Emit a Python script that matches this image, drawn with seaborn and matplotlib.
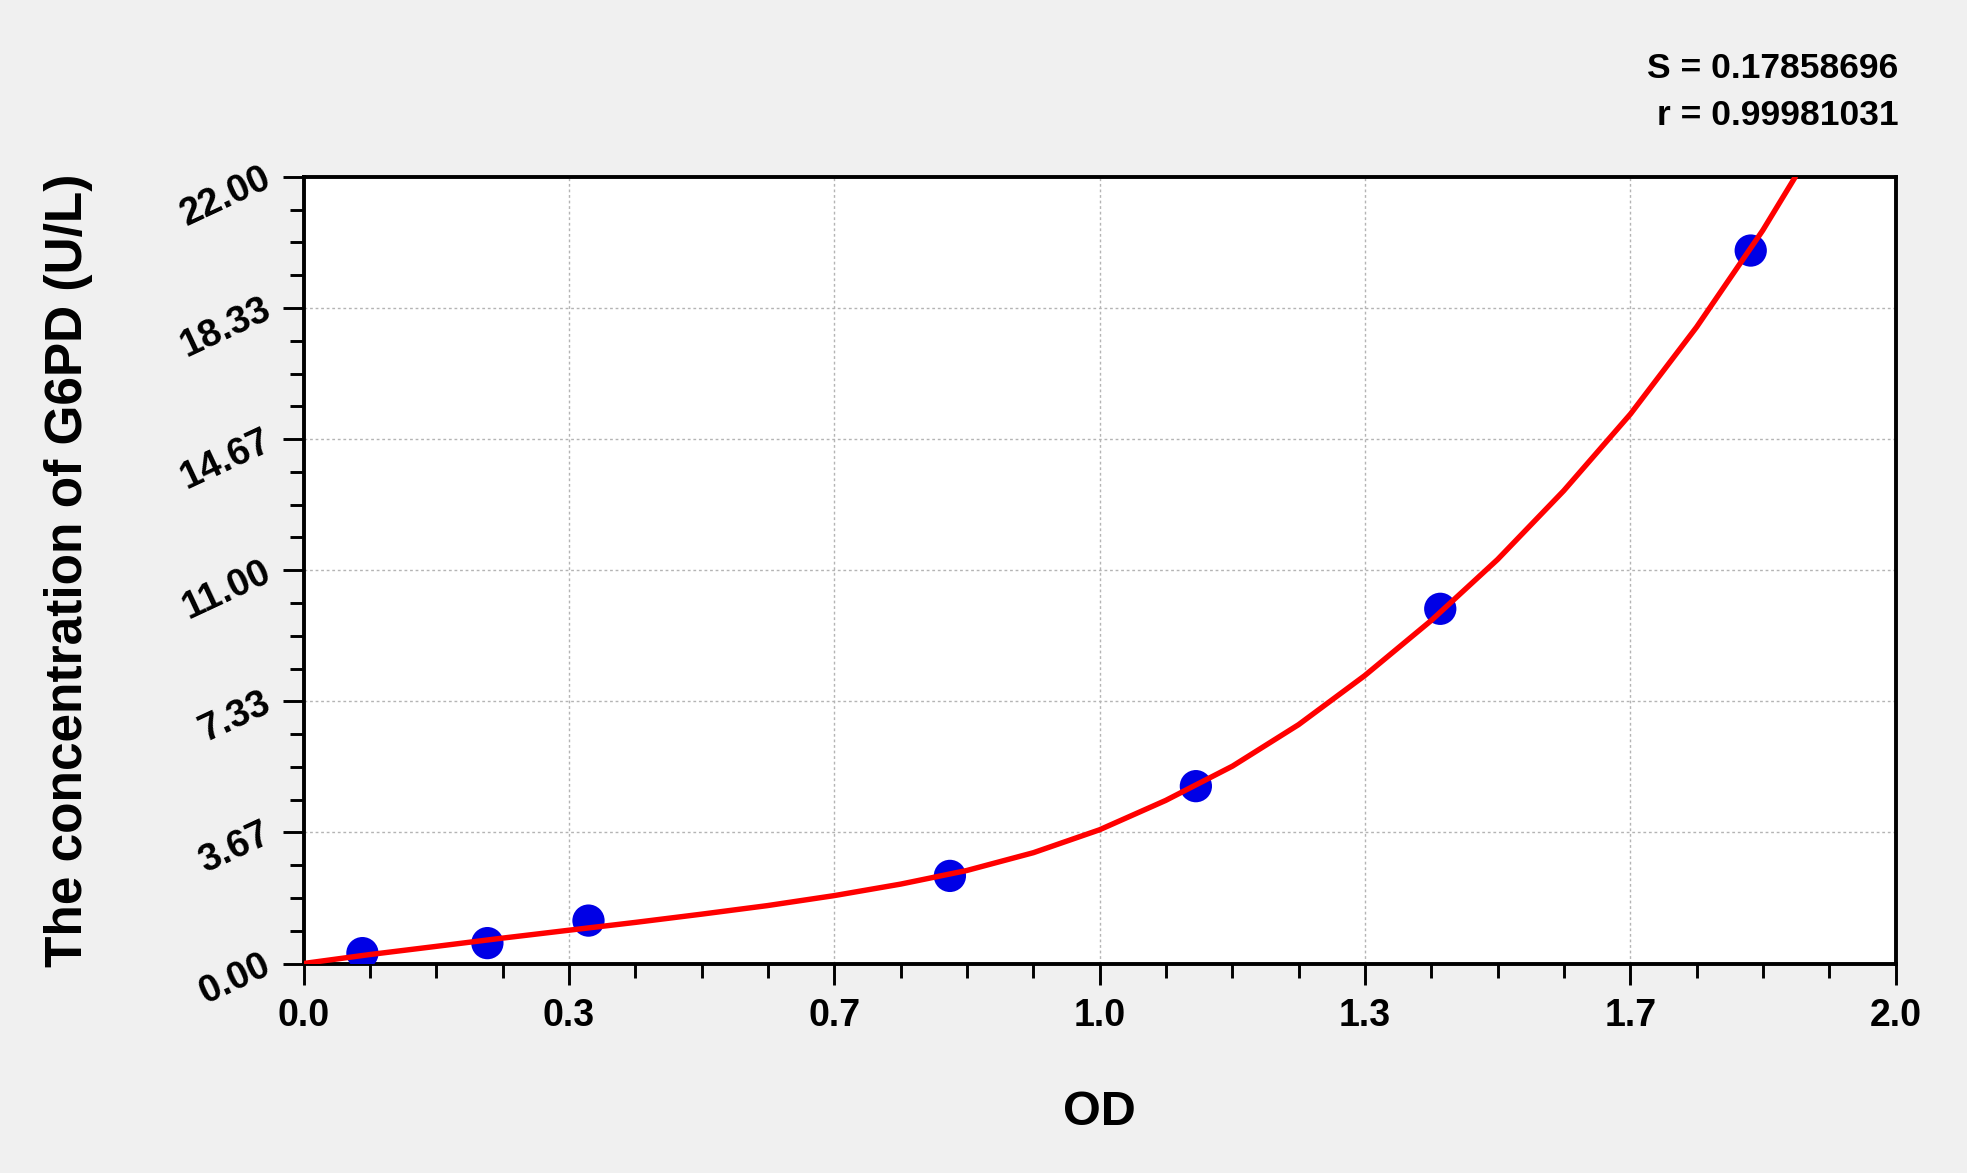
import numpy as np
import pandas as pd
import matplotlib
matplotlib.use("Agg")
import matplotlib.pyplot as plt
import seaborn as sns
from matplotlib.ticker import MultipleLocator

# Standard points (OD, concentration)
od_points = [0.074, 0.231, 0.358, 0.812, 1.121, 1.428, 1.818]
conc_points = [0.29, 0.57, 1.20, 2.45, 4.96, 9.92, 19.94]

# Fitted curve
curve_od = [0.0, 0.083, 0.167, 0.25, 0.333, 0.417, 0.5, 0.583, 0.667, 0.75,
            0.833, 0.917, 1.0, 1.083, 1.167, 1.25, 1.333, 1.417, 1.5, 1.583,
            1.667, 1.75, 1.833, 1.874]
curve_conc = [0.0, 0.25, 0.48, 0.71, 0.93, 1.15, 1.38, 1.62, 1.90, 2.22,
              2.60, 3.10, 3.74, 4.56, 5.52, 6.68, 8.05, 9.60, 11.3, 13.22,
              15.37, 17.8, 20.5, 22.0]

x_tick_vals = [0.0, 1 / 3, 2 / 3, 1.0, 4 / 3, 5 / 3, 2.0]
x_tick_labels = ["0.0", "0.3", "0.7", "1.0", "1.3", "1.7", "2.0"]
y_tick_vals = [0.0, 22 / 6, 44 / 6, 11.0, 88 / 6, 110 / 6, 22.0]
y_tick_labels = ["0.00", "3.67", "7.33", "11.00", "14.67", "18.33", "22.00"]

stats_text = ["S = 0.17858696", "r = 0.99981031"]

sns.set_theme(style="white")
plt.rcParams["font.family"] = ["Liberation Sans", "DejaVu Sans"]
plt.rcParams["font.weight"] = "bold"
plt.rcParams["text.color"] = "black"
plt.rcParams["axes.labelcolor"] = "black"
plt.rcParams["xtick.color"] = "black"
plt.rcParams["ytick.color"] = "black"

pts = pd.DataFrame({"OD": od_points, "conc": conc_points})
curve = pd.DataFrame({"OD": curve_od, "conc": curve_conc})

fig = plt.figure(figsize=(19.67, 11.73), dpi=100, facecolor="#f0f0f0")
ax = fig.add_axes([0.1543, 0.1786, 0.8094, 0.6706])
ax.set_facecolor("white")

sns.scatterplot(data=pts, x="OD", y="conc", ax=ax, s=540, color="#0000e6",
                edgecolor="none", zorder=3)
sns.lineplot(data=curve, x="OD", y="conc", ax=ax, color="#ff0000",
             linewidth=3.9, zorder=4)

ax.set_xlim(0, 2.0)
ax.set_ylim(0, 22.0)

ax.set_xticks(x_tick_vals)
ax.set_xticklabels(x_tick_labels, fontsize=27, fontweight="bold")
ax.set_yticks(y_tick_vals)
ax.set_yticklabels(y_tick_labels, fontsize=27.5, fontweight="bold",
                   rotation=25, ha="right", va="center", rotation_mode="anchor")
ax.xaxis.set_minor_locator(MultipleLocator(1 / 12))
ax.yaxis.set_minor_locator(MultipleLocator(22 / 24))

ax.tick_params(axis="both", which="major", direction="out", length=15,
               width=2.1, color="black", pad=10)
ax.tick_params(axis="both", which="minor", direction="out", length=10,
               width=2.1, color="black")
ax.tick_params(axis="x", which="both", bottom=True)
ax.tick_params(axis="y", which="both", left=True)

ax.grid(True, which="major", linestyle=(0, (2, 2)), color="#b4b4b4",
        linewidth=1.0)

for side in ["top", "bottom", "left", "right"]:
    ax.spines[side].set_visible(True)
    ax.spines[side].set_color("black")
    ax.spines[side].set_linewidth(2.8)

ax.set_xlabel("OD", fontsize=35, fontweight="bold", labelpad=40)
ax.set_ylabel("The concentration of G6PD (U/L)", fontsize=37,
              fontweight="bold")
ax.yaxis.set_label_coords(-0.132, 0.5)

fig.text(0.965, 0.9335, stats_text[0], ha="right", va="baseline",
         fontsize=25.5, fontweight="bold")
fig.text(0.965, 0.8934, stats_text[1], ha="right", va="baseline",
         fontsize=25.5, fontweight="bold")

fig.savefig("out.png", dpi=100, facecolor=fig.get_facecolor())
